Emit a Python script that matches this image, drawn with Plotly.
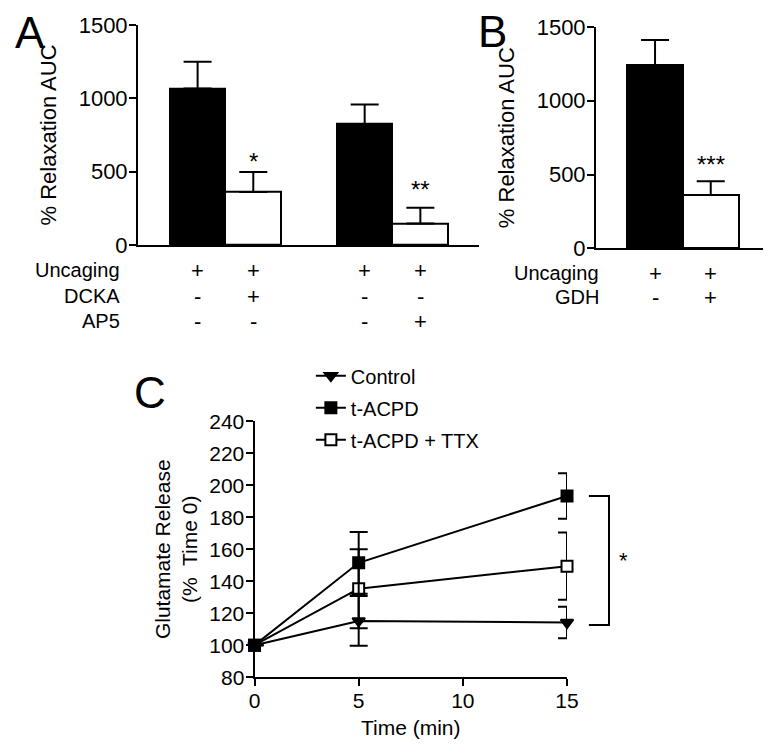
import plotly.graph_objects as go

# ---------------- data ----------------
A_x = [1, 2, 4, 5]
A_means = [1066, 362, 824, 147]
A_sem = [182, 136, 134, 108]
A_stars = ["", "*", "", "**"]
A_row_labels = ["Uncaging", "DCKA", "AP5"]
A_signs = [["+", "+", "+", "+"],
           ["-", "+", "-", "-"],
           ["-", "-", "-", "+"]]

B_x = [1, 2]
B_means = [1240, 362]
B_sem = [172, 92]
B_stars = ["", "***"]
B_row_labels = ["Uncaging", "GDH"]
B_signs = [["+", "+"],
           ["-", "+"]]

C_time = [0, 5, 15]
C_control = [100, 115.2, 114.2]
C_control_err = [0, 15.5, 9.8]
C_tacpd = [100, 151.5, 193.3]
C_tacpd_err = [0, 19.3, 14.2]
C_ttx = [100, 135.3, 149.4]
C_ttx_err = [0, 24.7, 21.0]
C_bracket = [193.3, 112.6]

# ---------------- layout helpers ----------------
W, H = 783, 753
OFF = 8                      # default body margin of the html page
FW, FH = W - 2 * OFF, H - 2 * OFF
FONT = "Liberation Sans, Arial, Helvetica, sans-serif"
FS = 20
FS_AB = 22
FS_C = 21


def px(x):
    return min(max((x - OFF) / FW, 0), 1)


def py(y):
    return min(max(1 - (y - OFF) / FH, 0), 1)


A_dom_x = [px(135), px(484)]
A_dom_y = [py(241), py(13)]
B_dom_x = [px(604), px(778)]
B_dom_y = [py(244.3), py(15.3)]
C_dom_x = [px(254.3), px(574.3)]
C_dom_y = [py(688.3), py(423.3)]
C_yr = [80, 240]
B_xr = [-0.06, 1 + (775 - 664.5) / 57]

fig = go.Figure()

bar_fill = ["black", "white"]


def fills(n):
    return [bar_fill[i % 2] for i in range(n)]


fig.add_trace(go.Bar(
    x=A_x, y=A_means, width=1, xaxis="x", yaxis="y",
    marker=dict(color=fills(len(A_x)), line=dict(color="black", width=2)),
    error_y=dict(type="data", symmetric=False, array=A_sem, arrayminus=[0] * len(A_sem),
                 color="black", thickness=2, width=14),
    showlegend=False, hoverinfo="skip"))

fig.add_trace(go.Bar(
    x=B_x, y=B_means, width=1, xaxis="x2", yaxis="y2",
    marker=dict(color=fills(len(B_x)), line=dict(color="black", width=2)),
    error_y=dict(type="data", symmetric=False, array=B_sem, arrayminus=[0] * len(B_sem),
                 color="black", thickness=2, width=14),
    showlegend=False, hoverinfo="skip"))


def line_trace(name, y, err, symbol, fill, rank):
    return go.Scatter(
        x=C_time, y=y, name=name, mode="lines+markers", xaxis="x3", yaxis="y3",
        line=dict(color="black", width=2),
        marker=dict(symbol=symbol, size=11, color=fill, line=dict(color="black", width=2)),
        error_y=dict(type="data", array=err, color="black", thickness=2, width=9),
        cliponaxis=False, legendrank=rank, legendgroup=name)


fig.add_trace(line_trace("t-ACPD + TTX", C_ttx, C_ttx_err, "square", "white", 3))
fig.add_trace(line_trace("Control", C_control, C_control_err, "triangle-down", "black", 1))
fig.add_trace(line_trace("t-ACPD", C_tacpd, C_tacpd_err, "square", "black", 2))


def axis_common(fs):
    return dict(showline=True, linecolor="black", linewidth=2, showgrid=False,
                zeroline=False, tickfont=dict(size=fs, color="black"),
                ticks="outside", ticklen=7, tickwidth=2, tickcolor="black",
                ticklabelstandoff=-3)


fig.update_layout(
    width=FW, height=FH, margin=dict(l=0, r=0, t=0, b=0),
    paper_bgcolor="white", plot_bgcolor="white",
    font=dict(family=FONT, size=FS, color="black"),
    bargap=0,
    xaxis=dict(domain=A_dom_x, range=[-0.07, 6.05], anchor="y", showline=True,
               linecolor="black", linewidth=2, showgrid=False, zeroline=False,
               showticklabels=False, ticks=""),
    yaxis=dict(domain=A_dom_y, range=[0, 1500], anchor="x", tickvals=[0, 500, 1000, 1500],
               title=dict(text="% Relaxation AUC", font=dict(size=FS_AB), standoff=16),
               **axis_common(FS_AB)),
    xaxis2=dict(domain=B_dom_x, range=B_xr, anchor="y2", showline=True,
                linecolor="black", linewidth=2, showgrid=False, zeroline=False,
                showticklabels=False, ticks=""),
    yaxis2=dict(domain=B_dom_y, range=[0, 1500], anchor="x2", tickvals=[0, 500, 1000, 1500],
                title=dict(text="% Relaxation AUC", font=dict(size=FS_AB), standoff=16),
                **axis_common(FS_AB)),
    xaxis3=dict(domain=C_dom_x, range=[0, 15], anchor="y3", tickvals=[0, 5, 10, 15],
                title=dict(text="Time (min)", font=dict(size=FS_C), standoff=9),
                **axis_common(FS_C)),
    yaxis3=dict(domain=C_dom_y, range=C_yr, anchor="x3", tickvals=list(range(80, 241, 20)),
                title=dict(text="Glutamate Release<br>(%  Time 0)", font=dict(size=FS_C),
                           standoff=6),
                **axis_common(FS_C)),
    legend=dict(x=px(312), y=py(356), xanchor="left", yanchor="top",
                font=dict(size=FS), bgcolor="rgba(0,0,0,0)", tracegroupgap=3,
                itemwidth=30),
)

ann = []
# panel letters
for letter, cx, cyy in [("A", 24, 21), ("B", 498, 20), ("C", 147, 394)]:
    ann.append(dict(text=letter, x=px(cx), y=py(cyy), xref="paper", yref="paper",
                    xanchor="center", yanchor="middle", showarrow=False,
                    font=dict(size=44)))

# row labels and signs
A_rows_y = [267, 294, 320]
for lab, signs, yy in zip(A_row_labels, A_signs, A_rows_y):
    ann.append(dict(text=lab, x=px(119), y=py(yy), xref="paper", yref="paper",
                    xanchor="right", yanchor="middle", showarrow=False))
    for xv, s in zip(A_x, signs):
        ann.append(dict(text=s, x=xv, y=py(yy), xref="x", yref="paper",
                        xanchor="center", yanchor="middle", showarrow=False,
                        font=dict(size=22)))

B_rows_y = [270, 295]
for lab, signs, yy in zip(B_row_labels, B_signs, B_rows_y):
    ann.append(dict(text=lab, x=px(609), y=py(yy), xref="paper", yref="paper",
                    xanchor="right", yanchor="middle", showarrow=False))
    for xv, s in zip(B_x, signs):
        ann.append(dict(text=s, x=xv, y=py(yy), xref="x2", yref="paper",
                        xanchor="center", yanchor="middle", showarrow=False,
                        font=dict(size=22)))

# significance stars
A_star_shift = [0, -5, 0, 3]
for xv, m, e, s, sh in zip(A_x, A_means, A_sem, A_stars, A_star_shift):
    if s:
        ann.append(dict(text=s, x=xv, y=m + e, xref="x", yref="y", xanchor="center",
                        yanchor="bottom", yshift=sh, showarrow=False, font=dict(size=24)))
B_star_shift = [0, 1]
for xv, m, e, s, sh in zip(B_x, B_means, B_sem, B_stars, B_star_shift):
    if s:
        ann.append(dict(text=s, x=xv, y=m + e, xref="x2", yref="y2", xanchor="center",
                        yanchor="bottom", yshift=sh, showarrow=False, font=dict(size=24)))


def cy(v):
    return C_dom_y[0] + (v - C_yr[0]) / (C_yr[1] - C_yr[0]) * (C_dom_y[1] - C_dom_y[0])


bx0, bx1 = px(596.7), px(617.3)
fig.add_shape(type="path", xref="paper", yref="paper",
              path=f"M {bx0} {cy(C_bracket[0])} L {bx1} {cy(C_bracket[0])} "
                   f"L {bx1} {cy(C_bracket[1])} L {bx0} {cy(C_bracket[1])}",
              line=dict(color="black", width=2))
ann.append(dict(text="*", x=px(632), y=cy((C_bracket[0] + C_bracket[1]) / 2), xref="paper",
                yref="paper", xanchor="center", yanchor="middle", yshift=0, showarrow=False,
                font=dict(size=22)))

fig.update_layout(annotations=ann)
fig.write_html("out.html")
